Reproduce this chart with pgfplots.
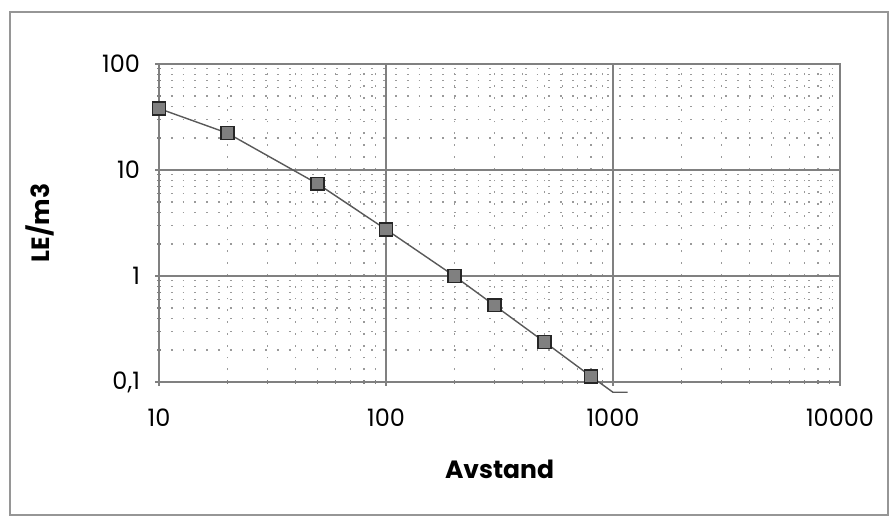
\documentclass[border=0pt]{standalone}
\usepackage{fontspec}
\setmainfont{Poppins}
\usepackage{pgfplots}
\pgfplotsset{compat=1.18}
\definecolor{gridc}{RGB}{128,128,128}
\definecolor{framec}{RGB}{150,150,150}
\begin{document}
\begin{tikzpicture}
\useasboundingbox (-79.5pt,-71pt) rectangle (368.5pt,191pt);
\draw[framec, line width=0.8pt] (-74.5pt,-66.5pt) rectangle (364.5pt,185pt);
\begin{axis}[
  at={(0pt,0pt)}, anchor=south west,
  scale only axis, width=340.5pt, height=159pt,
  xmode=log, ymode=log,
  xmin=10, xmax=10000, ymin=0.1, ymax=100,
  log basis x=10, log basis y=10,
  xtick={10,100,1000,10000},
  xticklabels={10,100,1000,10000},
  minor xtick={20,30,40,50,60,70,80,90,200,300,400,500,600,700,800,900,2000,3000,4000,5000,6000,7000,8000,9000},
  ytick={0.1,1,10,100},
  yticklabels={{0,1},1,10,100},
  minor ytick={0.2,0.3,0.4,0.5,0.6,0.7,0.8,0.9,2,3,4,5,6,7,8,9,20,30,40,50,60,70,80,90},
  grid=both,
  major grid style={gridc, line width=0.7pt},
  minor grid style={gridc!80, line width=0.6pt, dash pattern=on 0.9pt off 5pt},
  axis line style={gridc, line width=0.8pt},
  tick style={gridc, line width=0.6pt},
  major tick length=4pt, minor tick length=2pt,
  tick align=center,
  xtick pos=bottom, ytick pos=left,
  tick label style={font=\fontsize{12}{14}\selectfont, text=black},
  xticklabel style={yshift=-8pt},
  yticklabel style={xshift=-4pt},
  xlabel={\textbf{Avstand}},
  ylabel={\textbf{LE/m3}},
  xlabel style={font=\fontsize{12.5}{15}\selectfont, yshift=-10pt},
  ylabel style={font=\fontsize{12.5}{15}\selectfont, yshift=17pt},
  clip=false,
]
\addplot[color=black!65, line width=0.7pt, no marks] coordinates {
 (10,38) (20,22.3) (50,7.4) (100,2.75) (200,1.0) (300,0.53) (500,0.238) (800,0.113) (1000,0.08) (1160,0.08)
};
\addplot[only marks, mark=square*, mark size=3.2pt, mark options={fill=black!50, draw=black!85, line width=0.8pt}] coordinates {
 (10,38) (20,22.3) (50,7.4) (100,2.75) (200,1.0) (300,0.53) (500,0.238) (800,0.113)
};
\end{axis}
\end{tikzpicture}
\end{document}
